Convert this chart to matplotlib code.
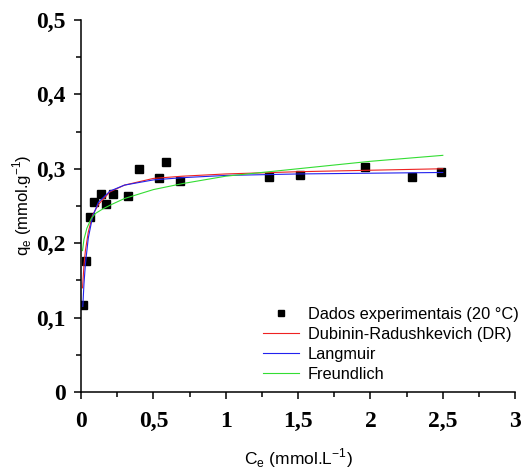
import matplotlib.pyplot as plt
from matplotlib.ticker import MultipleLocator, FuncFormatter

# experimental isotherm points (20 °C)
ce_exp = [0.014, 0.033, 0.060, 0.088, 0.138, 0.172, 0.220, 0.325, 0.400,
          0.540, 0.590, 0.685, 1.300, 1.510, 1.960, 2.290, 2.490]
qe_exp = [0.117, 0.176, 0.235, 0.255, 0.266, 0.253, 0.266, 0.263, 0.299,
          0.288, 0.309, 0.284, 0.289, 0.291, 0.302, 0.289, 0.296]

# fitted model curves
ce_dr = [0.010, 0.020, 0.030, 0.050, 0.080, 0.120, 0.200, 0.300, 0.500,
         0.700, 1.000, 1.500, 2.000, 2.500]
qe_dr = [0.140, 0.170, 0.190, 0.215, 0.238, 0.252, 0.269, 0.278, 0.287,
         0.290, 0.293, 0.296, 0.298, 0.300]

ce_lang = [0.012, 0.020, 0.030, 0.050, 0.080, 0.120, 0.200, 0.300, 0.500,
           0.700, 1.000, 1.500, 2.000, 2.500]
qe_lang = [0.115, 0.145, 0.172, 0.207, 0.236, 0.255, 0.270, 0.278, 0.285,
           0.288, 0.291, 0.293, 0.294, 0.295]

ce_freu = [0.010, 0.020, 0.040, 0.070, 0.100, 0.150, 0.200, 0.300, 0.500,
           0.700, 1.000, 1.500, 2.000, 2.500]
qe_freu = [0.190, 0.205, 0.220, 0.233, 0.240, 0.246, 0.251, 0.260, 0.272,
           0.280, 0.290, 0.300, 0.310, 0.318]

fig = plt.figure(figsize=(5.23, 4.74), dpi=100)
ax = fig.add_axes([0.155, 0.173, 0.830, 0.785])

ax.plot(ce_exp, qe_exp, 's', color='black', markersize=5.5, linestyle='none',
        label='Dados experimentais (20 °C)')
ax.plot(ce_dr, qe_dr, color='#ee2222', lw=0.8, label='Dubinin-Radushkevich (DR)')
ax.plot(ce_lang, qe_lang, color='#2222ee', lw=0.8, label='Langmuir')
ax.plot(ce_freu, qe_freu, color='#33dd33', lw=0.8, label='Freundlich')

ax.set_xlim(0, 3)
ax.set_ylim(0, 0.5)
ax.spines['top'].set_visible(False)
ax.spines['right'].set_visible(False)
for s in ('left', 'bottom'):
    ax.spines[s].set_linewidth(1.1)

ax.xaxis.set_major_locator(MultipleLocator(0.5))
ax.xaxis.set_minor_locator(MultipleLocator(0.25))
ax.yaxis.set_major_locator(MultipleLocator(0.1))
ax.yaxis.set_minor_locator(MultipleLocator(0.05))

comma = FuncFormatter(lambda v, p: ('%g' % round(v, 2)).replace('.', ','))
ax.xaxis.set_major_formatter(comma)
ax.yaxis.set_major_formatter(comma)

ax.tick_params(which='major', direction='out', length=5, width=1.1)
ax.tick_params(which='minor', direction='out', length=3.5, width=1.1)
ax.tick_params(axis='x', which='major', pad=9)
ax.tick_params(axis='y', which='major', pad=6)
for lab in ax.get_xticklabels() + ax.get_yticklabels():
    lab.set_fontfamily('Liberation Serif')
    lab.set_fontweight('bold')
    lab.set_fontsize(17)

ax.set_xlabel('C$_\\mathregular{e}$ (mmol.L$^\\mathregular{-1}$)',
              fontfamily='Liberation Sans', fontsize=12.5)
ax.set_ylabel('q$_\\mathregular{e}$ (mmol.g$^\\mathregular{-1}$)',
              fontfamily='Liberation Sans', fontsize=12)
ax.xaxis.set_label_coords(0.5, -0.177)
ax.yaxis.set_label_coords(-0.136, 0.503)
ax.xaxis.label.set_va('center')
ax.yaxis.label.set_va('center')

ax.legend(loc='upper left', bbox_to_anchor=(0.42, 0.228), frameon=False,
          prop={'family': 'Liberation Sans', 'size': 11.8},
          handlelength=2.2, handletextpad=0.5, borderpad=0,
          borderaxespad=0, labelspacing=0.3, markerscale=0.8)

fig.savefig('out.png', dpi=100)
